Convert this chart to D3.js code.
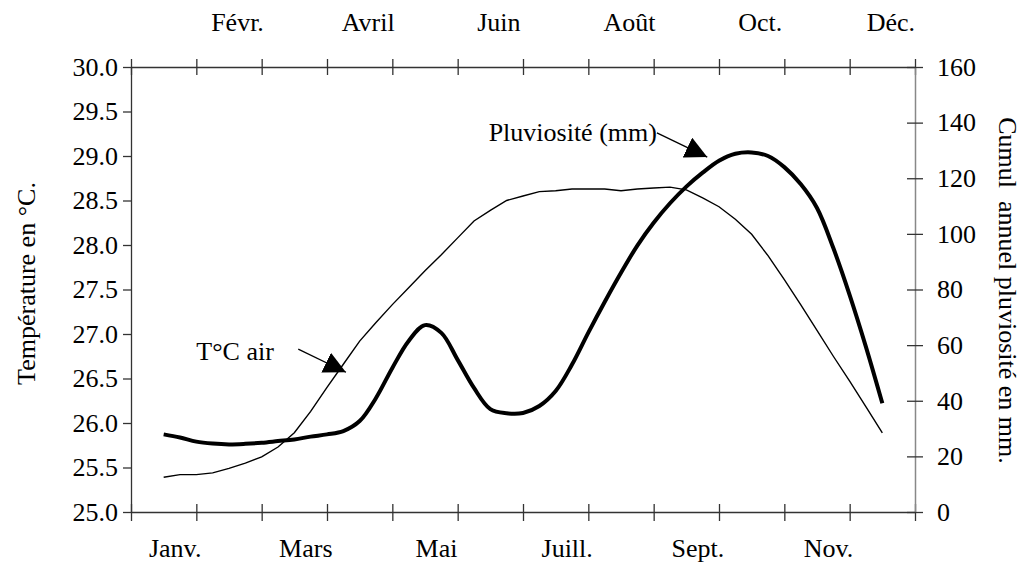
<!DOCTYPE html>
<html>
<head>
<meta charset="utf-8">
<script src="https://cdn.jsdelivr.net/npm/d3@7"></script>
<style>
  body { margin: 0; background: #fff; }
  svg { display: block; }
  text { font-family: "Liberation Serif", "Times New Roman", serif; font-size: 26px; fill: #000; }
</style>
</head>
<body>
<svg id="chart" width="1021" height="564"></svg>
<script>
// months shown on the two horizontal axes (one every other month)
const bottomMonths = ['Janv.', 'Mars', 'Mai', 'Juill.', 'Sept.', 'Nov.'];
const topMonths = ['Févr.', 'Avril', 'Juin', 'Août', 'Oct.', 'Déc.'];

// weekly values (4 per month, from mid-January to mid-December)
const tempAir = [25.39, 25.42, 25.42, 25.44, 25.49, 25.55, 25.62, 25.73, 25.89, 26.13,
  26.40, 26.66, 26.92, 27.13, 27.33, 27.52, 27.71, 27.89, 28.08, 28.27,
  28.39, 28.50, 28.55, 28.60, 28.61, 28.63, 28.63, 28.63, 28.61, 28.63,
  28.64, 28.65, 28.62, 28.53, 28.43, 28.29, 28.12, 27.88, 27.61, 27.33,
  27.04, 26.75, 26.47, 26.18, 25.89];
const rain = [27.9, 26.8, 25.3, 24.6, 24.3, 24.5, 24.9, 25.5, 26.1, 27.1,
  27.9, 29.1, 32.7, 41.0, 51.8, 61.5, 67.2, 64.4, 54.7, 44.6,
  37.0, 35.5, 35.6, 38.1, 43.5, 53.0, 64.5, 75.5, 86.0, 95.8,
  104.0, 111.0, 117.0, 122.0, 126.3, 128.8, 129.3, 128.0, 124.0, 117.9,
  109.3, 94.9, 78.0, 59.3, 39.1];

const tempTicks = d3.range(25, 30.01, 0.5);
const rainTicks = d3.range(0, 161, 20);

const svg = d3.select('#chart');
const plot = { left: 131, right: 915, top: 67, bottom: 512 };
const serif = '"Liberation Serif", "Times New Roman", serif';

const x = d3.scaleLinear().domain([0, 12]).range([plot.left, plot.right]);
const yT = d3.scaleLinear().domain([25, 30]).range([plot.bottom, plot.top]);
const yP = d3.scaleLinear().domain([0, 160]).range([plot.bottom, plot.top]);
const pos = i => 0.5 + i / 4; // week index -> month position

// horizontal axes: ticks at month boundaries, labels in the middle of months
const monthEdges = d3.range(0, 13);

const bottomAxis = svg.append('g')
  .attr('transform', `translate(0,${plot.bottom})`)
  .call(d3.axisBottom(x).tickValues(monthEdges).tickFormat('').tickSizeOuter(0));
bottomAxis.selectAll('.tick line').attr('y1', -8).attr('y2', 9);

svg.append('g')
  .attr('transform', `translate(0,${plot.bottom})`)
  .call(d3.axisBottom(x).tickValues(bottomMonths.map((d, i) => i * 2 + 0.5))
    .tickFormat((d, i) => bottomMonths[i]).tickSize(0).tickPadding(27))
  .call(g => g.select('.domain').remove())
  .selectAll('text').attr('dx', 11);

const topAxis = svg.append('g')
  .attr('transform', `translate(0,${plot.top})`)
  .call(d3.axisTop(x).tickValues(monthEdges).tickFormat('').tickSizeOuter(0));
topAxis.selectAll('.tick line').attr('y1', -8).attr('y2', 8);

svg.append('g')
  .attr('transform', `translate(0,${plot.top})`)
  .call(d3.axisTop(x).tickValues(topMonths.map((d, i) => i * 2 + 1.5))
    .tickFormat((d, i) => topMonths[i]).tickSize(0).tickPadding(36))
  .call(g => g.select('.domain').remove())
  .selectAll('text').attr('dx', 8);

// left axis (temperature)
svg.append('g')
  .attr('transform', `translate(${plot.left},0)`)
  .call(d3.axisLeft(yT).tickValues(tempTicks).tickFormat(d3.format('.1f'))
    .tickSize(8).tickPadding(5).tickSizeOuter(0));

// right axis (rainfall)
const rightAxis = svg.append('g')
  .attr('transform', `translate(${plot.right},0)`)
  .call(d3.axisRight(yP).tickValues(rainTicks).tickSize(8).tickPadding(14).tickSizeOuter(0));
rightAxis.selectAll('.tick line').attr('x1', -8).attr('x2', 8);

svg.selectAll('.domain').attr('stroke', '#333').attr('stroke-width', 1.3);
rightAxis.select('.domain').attr('stroke', '#888').attr('stroke-width', 1.5);
svg.selectAll('.tick line').attr('stroke', '#333').attr('stroke-width', 1.3);
svg.selectAll('.tick text').style('font-size', '26px').style('font-family', serif);

// axis titles
svg.append('text')
  .attr('transform', `translate(35,${(plot.top + plot.bottom) / 2 - 6}) rotate(-90)`)
  .attr('text-anchor', 'middle')
  .text('Température en °C.');

svg.append('text')
  .attr('transform', `translate(999,${(plot.top + plot.bottom) / 2 + 1}) rotate(90)`)
  .attr('text-anchor', 'middle')
  .attr('xml:space', 'preserve')
  .style('white-space', 'pre')
  .text('Cumul  annuel pluviosité en mm.');

// series
const tempLine = d3.line().x((d, i) => x(pos(i))).y(d => yT(d));
const rainLine = d3.line().x((d, i) => x(pos(i))).y(d => yP(d)).curve(d3.curveCatmullRom.alpha(0.5));

svg.append('path').datum(tempAir)
  .attr('d', tempLine).attr('fill', 'none').attr('stroke', '#000').attr('stroke-width', 1.4);

svg.append('path').datum(rain)
  .attr('d', rainLine).attr('fill', 'none').attr('stroke', '#000').attr('stroke-width', 4)
  .attr('stroke-linejoin', 'round');

// annotations with arrows
svg.append('defs').append('marker')
  .attr('id', 'arrow')
  .attr('viewBox', '0 0 20 20')
  .attr('refX', 20).attr('refY', 10)
  .attr('markerWidth', 22).attr('markerHeight', 22)
  .attr('markerUnits', 'userSpaceOnUse')
  .attr('orient', 'auto')
  .append('path').attr('d', 'M0,0 L20,10 L0,20 Z').attr('fill', '#000');

function annotate(label, textPos, from, to, anchor) {
  svg.append('text')
    .attr('x', textPos[0]).attr('y', textPos[1])
    .attr('text-anchor', anchor)
    .text(label);
  svg.append('line')
    .attr('x1', from[0]).attr('y1', from[1])
    .attr('x2', to[0]).attr('y2', to[1])
    .attr('stroke', '#000').attr('stroke-width', 1.3)
    .attr('marker-end', 'url(#arrow)');
}

annotate('T°C air',
  [x(1.0), yT(26.71)], [x(2.56), yT(26.83)], [x(3.29), yT(26.57)], 'start');
annotate('Pluviosité (mm)',
  [x(8.05), yP(133.4)], [x(8.05), yP(136.3)], [x(8.82), yP(127.6)], 'end');
</script>
</body>
</html>
